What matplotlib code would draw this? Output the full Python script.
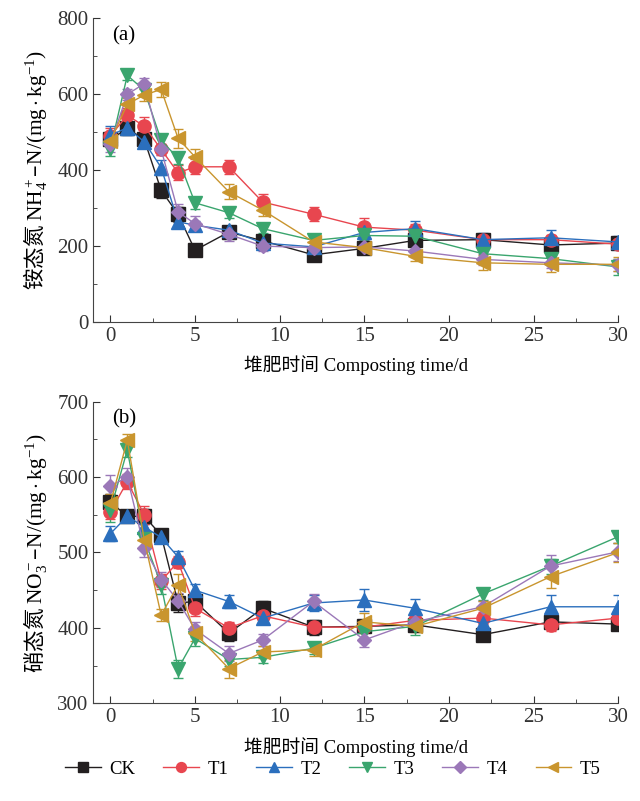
import numpy as np
import matplotlib
matplotlib.use("Agg")
import matplotlib.pyplot as plt
from matplotlib.lines import Line2D
from matplotlib.ticker import MultipleLocator

plt.rcParams['font.family'] = ['Liberation Serif', 'Noto Sans CJK SC']
plt.rcParams['mathtext.fontset'] = 'custom'
plt.rcParams['mathtext.rm'] = 'Liberation Serif'
plt.rcParams['mathtext.it'] = 'Liberation Serif:italic'

# sampling days
days = [0, 1, 2, 3, 4, 5, 7, 9, 12, 15, 18, 22, 26, 30]
series = ['CK', 'T1', 'T2', 'T3', 'T4', 'T5']
colors = ['#231f20', '#e8464f', '#2b6fbd', '#3aa56e', '#9b78b8', '#c9952e']
markers = ['s', 'o', '^', 'v', 'D', '<']

# (a) NH4+-N, mg/kg
nh4 = {
    'CK': [481, 510, 481, 347, 284, 189, 237, 214, 177, 194, 215, 217, 203, 208],
    'T1': [490, 545, 516, 455, 393, 409, 409, 316, 284, 250, 242, 217, 217, 205],
    'T2': [492, 512, 475, 407, 264, 255, 242, 208, 198, 236, 246, 217, 222, 211],
    'T3': [457, 650, 611, 479, 431, 314, 288, 246, 215, 228, 226, 180, 167, 145],
    'T4': [470, 600, 628, 455, 290, 259, 231, 200, 196, 198, 187, 165, 156, 150],
    'T5': [477, 574, 598, 613, 484, 435, 343, 295, 211, 196, 173, 156, 152, 152],
}
nh4_err = {
    'CK': [15, 15, 15, 20, 20, 15, 15, 12, 15, 12, 12, 15, 12, 12],
    'T1': [20, 18, 25, 15, 20, 20, 18, 22, 18, 25, 15, 12, 12, 12],
    'T2': [25, 18, 15, 20, 15, 12, 12, 10, 12, 12, 20, 18, 20, 15],
    'T3': [20, 12, 15, 15, 15, 15, 15, 12, 12, 12, 12, 15, 15, 22],
    'T4': [22, 15, 15, 15, 20, 20, 18, 12, 15, 15, 15, 15, 15, 15],
    'T5': [15, 15, 15, 20, 25, 20, 20, 15, 15, 15, 12, 20, 20, 18],
}

# (b) NO3--N, mg/kg
no3 = {
    'CK': [567, 548, 548, 523, 433, 435, 393, 426, 401, 402, 404, 391, 408, 405],
    'T1': [554, 594, 550, 462, 488, 426, 400, 416, 401, 401, 410, 413, 404, 413],
    'T2': [525, 548, 534, 520, 494, 450, 435, 413, 433, 437, 426, 406, 428, 428],
    'T3': [556, 636, 518, 457, 346, 386, 358, 361, 373, 395, 402, 445, 482, 521],
    'T4': [588, 600, 506, 464, 436, 398, 366, 384, 435, 384, 408, 428, 482, 501],
    'T5': [565, 649, 517, 417, 457, 393, 346, 368, 371, 408, 402, 426, 468, 500],
}
no3_err = {
    'CK': [10, 8, 10, 8, 12, 10, 10, 10, 10, 8, 8, 8, 8, 8],
    'T1': [10, 10, 12, 10, 8, 10, 8, 10, 8, 8, 8, 8, 8, 8],
    'T2': [10, 8, 8, 8, 8, 8, 8, 8, 10, 15, 12, 8, 15, 15],
    'T3': [15, 10, 12, 12, 12, 10, 8, 8, 8, 10, 12, 8, 10, 8],
    'T4': [15, 12, 12, 10, 10, 10, 10, 8, 10, 10, 8, 8, 15, 12],
    'T5': [12, 8, 12, 8, 15, 10, 12, 8, 8, 12, 8, 10, 15, 12],
}

fig = plt.figure(figsize=(6.4, 8.01), dpi=100)
ax1 = fig.add_axes([0.146, 0.598, 0.820, 0.379])
ax2 = fig.add_axes([0.146, 0.122, 0.820, 0.3765])


def msize(m, scale=1.0):
    return (7.5 if m == 'D' else 9.5) * scale


def draw(ax, data, err, ylim, major, label, ylabel):
    for s, c, m in zip(series, colors, markers):
        ax.errorbar(days, data[s], yerr=err[s], color=c, marker=m, ms=msize(m),
                    lw=1.0, elinewidth=1.0, capsize=3.5, capthick=1.0, label=s)
    ax.set_xlim(-1, 30)
    ax.set_ylim(*ylim)
    ax.xaxis.set_major_locator(MultipleLocator(5))
    ax.xaxis.set_minor_locator(MultipleLocator(2.5))
    ax.yaxis.set_major_locator(MultipleLocator(major))
    ax.yaxis.set_minor_locator(MultipleLocator(major / 2))
    ax.tick_params(which='both', direction='in', labelsize=15, colors='#333333')
    ax.tick_params(which='major', length=5)
    ax.tick_params(which='minor', length=3)
    for sp in ['top', 'right']:
        ax.spines[sp].set_visible(False)
    for sp in ['left', 'bottom']:
        ax.spines[sp].set_color('#444444')
    ax.set_xlabel('堆肥时间 Composting time/d', fontsize=13.5, labelpad=7)
    ax.set_ylabel(ylabel, fontsize=15.5, family='Noto Sans CJK SC', labelpad=6)
    ax.text(0.035, 0.975, label, transform=ax.transAxes, fontsize=15, va='top')


draw(ax1, nh4, nh4_err, (0, 800), 200, '(a)',
     r'铵态氮 $\mathrm{NH_4^+}$–$\mathrm{N/(mg\cdot kg^{-1})}$')
draw(ax2, no3, no3_err, (300, 700), 100, '(b)',
     r'硝态氮 $\mathrm{NO_3^-}$–$\mathrm{N/(mg\cdot kg^{-1})}$')

handles = [Line2D([], [], color=c, marker=m, ms=msize(m, 0.75), lw=1.0)
           for c, m in zip(colors, markers)]
fig.legend(handles, series, loc='center', bbox_to_anchor=(0.52, 0.040), ncol=6,
           frameon=False, fontsize=13.5, handlelength=1.9, columnspacing=1.5,
           handletextpad=0.45)

fig.savefig('out.png', dpi=100)
